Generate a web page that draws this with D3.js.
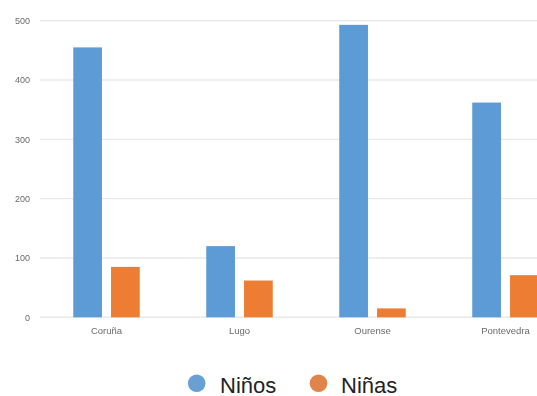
<!DOCTYPE html>
<html>
<head>
<meta charset="utf-8">
<script src="https://cdn.jsdelivr.net/npm/d3@7"></script>
<style>
  html, body { margin: 0; padding: 0; background: #fff; overflow: hidden; }
  svg { display: block; }
</style>
</head>
<body>
<svg id="chart" width="537" height="396"></svg>
<script>
// Provinces and counts per group
const categories = ["Coruña", "Lugo", "Ourense", "Pontevedra"];
const series = ["Niños", "Niñas"];
const ninos = [455, 120, 493, 362];
const ninas = [85, 62, 15, 71];
const yTicks = [0, 100, 200, 300, 400, 500];
const colors = ["#5b9bd5", "#ed7d31"];
const legendColors = ["#6a9fd3", "#e0844a"];

const data = categories.map((c, i) => ({ cat: c, values: [ninos[i], ninas[i]] }));

const svg = d3.select("#chart");
const plot = { left: 40, right: 572, top: 20.7, bottom: 317.3 };

// soft rendering of the plot area
const defs = svg.append("defs");
defs.append("filter").attr("id", "soft")
  .append("feGaussianBlur").attr("stdDeviation", 0.6);

const g = svg.append("g").attr("filter", "url(#soft)");

const x0 = d3.scaleBand().domain(categories).range([plot.left, plot.right]).paddingInner(0.5).paddingOuter(0.25);
const x1 = d3.scaleBand().domain(series).range([0, x0.bandwidth()]).paddingInner(0.24);
const y = d3.scaleLinear().domain([0, 500]).range([plot.bottom, plot.top]);

// gridlines
g.append("g").selectAll("line").data(yTicks).join("line")
  .attr("x1", plot.left).attr("x2", plot.right)
  .attr("y1", d => y(d)).attr("y2", d => y(d))
  .attr("stroke", "#e9e9e9").attr("stroke-width", 1.4);

// y axis labels
const yAxis = d3.axisLeft(y).tickValues(yTicks).tickSize(0).tickPadding(10);
const ya = g.append("g").attr("transform", `translate(${plot.left},0)`).call(yAxis);
ya.select(".domain").remove();
ya.selectAll("text").attr("font-family", "Liberation Sans, Arial, sans-serif")
  .attr("font-size", 9).attr("fill", "#6a6a6a");

// bars
g.append("g").selectAll("g").data(data).join("g")
  .attr("transform", d => `translate(${x0(d.cat)},0)`)
  .selectAll("rect").data(d => d.values.map((v, i) => ({ s: series[i], v, i })))
  .join("rect")
  .attr("x", d => x1(d.s))
  .attr("width", x1.bandwidth())
  .attr("y", d => y(d.v))
  .attr("height", d => y(0) - y(d.v))
  .attr("fill", d => colors[d.i]);

// category labels
const xAxis = d3.axisBottom(x0).tickSize(0).tickPadding(10);
const xa = g.append("g").attr("transform", `translate(0,${plot.bottom})`).call(xAxis);
xa.select(".domain").remove();
xa.selectAll("text").attr("font-family", "Liberation Sans, Arial, sans-serif")
  .attr("font-size", 9.5).attr("fill", "#6a6a6a");

// legend
const legendItems = [
  { name: series[0], cx: 196.7, tx: 220 },
  { name: series[1], cx: 318.5, tx: 341 }
];
const lg = svg.append("g");
lg.selectAll("circle").data(legendItems).join("circle")
  .attr("cx", d => d.cx).attr("cy", 383.3).attr("r", 8.8)
  .attr("fill", (d, i) => legendColors[i]);
lg.selectAll("text").data(legendItems).join("text")
  .attr("x", d => d.tx).attr("y", 392.5)
  .attr("font-family", "Liberation Sans, Arial, sans-serif")
  .attr("font-size", 22).attr("fill", "#222")
  .text(d => d.name);
</script>
</body>
</html>
